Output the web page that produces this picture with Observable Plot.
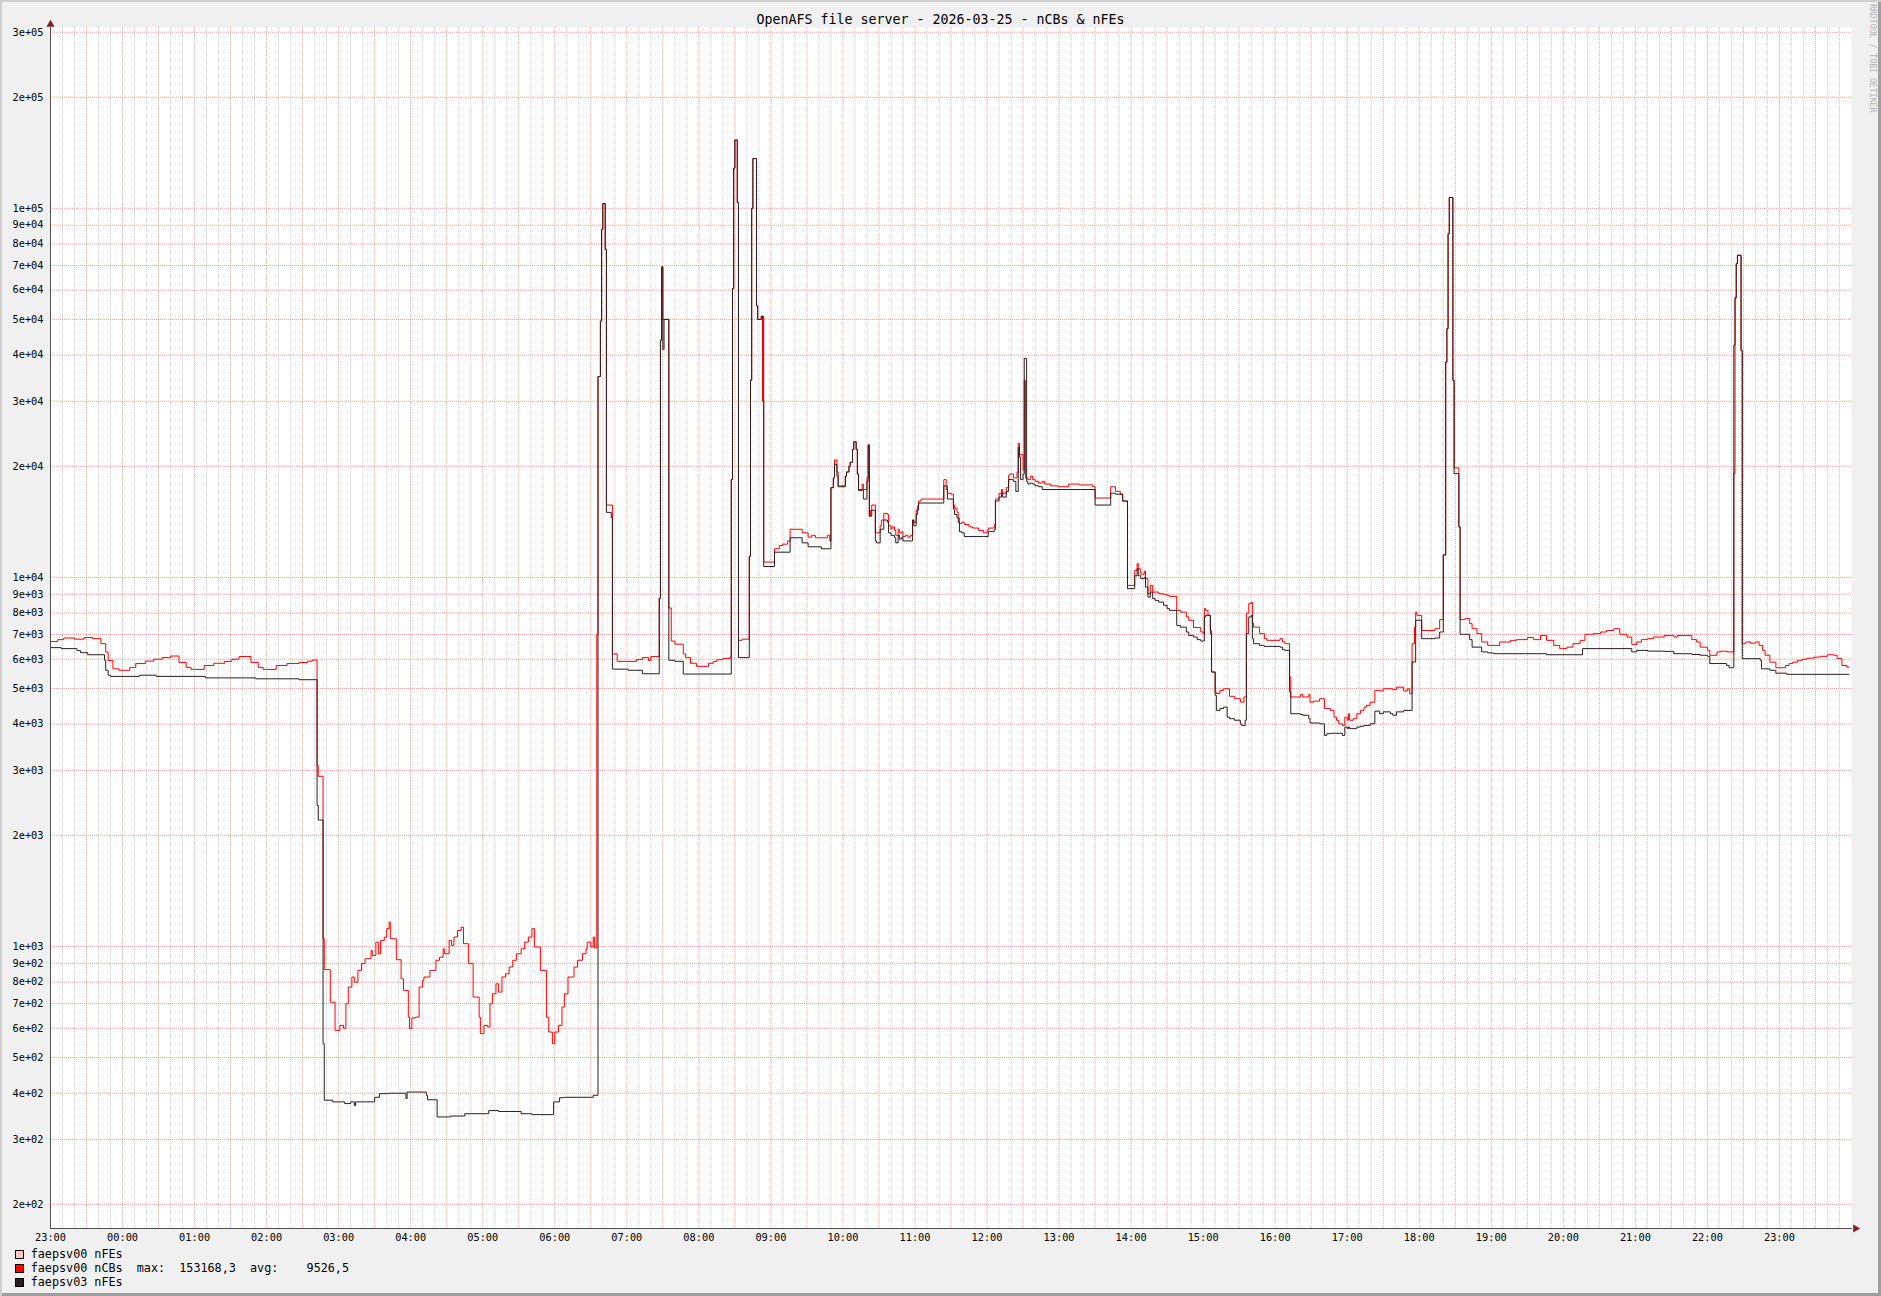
<!DOCTYPE html>
<html>
<head>
<meta charset="utf-8">
<script src="https://cdn.jsdelivr.net/npm/d3@7"></script>
<script src="https://cdn.jsdelivr.net/npm/@observablehq/plot@0.6"></script>
<style>
  html, body { margin: 0; padding: 0; background: #f0f0f0; }
  #chart { position: relative; width: 1881px; height: 1296px; background: #f0f0f0; overflow: hidden;
           font-family: "DejaVu Sans Mono", monospace; color: #000; }
  #shade { position: absolute; left: 0; top: 0; width: 1881px; height: 1296px; pointer-events: none;
           box-shadow: inset 2px 2px 0 #cfcfcf, inset -3px -3px 0 #9e9e9e; z-index: 5; }
  #title { position: absolute; left: 0; top: 12px; width: 1881px; text-align: center;
           font-size: 13.3px; line-height: 16px; white-space: pre; }
  #plot { position: absolute; left: 0; top: 0; }
  .lrow { position: absolute; left: 15px; height: 14px; line-height: 14px; display: flex; align-items: center;
          font-size: 11.76px; white-space: pre; }
  .sw { display: inline-block; width: 9px; height: 9px; box-sizing: border-box; border: 1px solid #000; margin-right: 6.7px; }
  #wm { position: absolute; left: 1867px; top: 4px; writing-mode: vertical-rl; font-size: 8.2px; line-height: 12px;
        color: #b4b4b4; white-space: pre; }
</style>
</head>
<body>
<div id="chart">
  <div id="title"></div>
  <div id="plot"></div>
  <div id="legend"></div>
  <div id="wm">RRDTOOL / TOBI OETIKER</div>
  <div id="shade"></div>
</div>
<script>
// ---------- DATA ----------
const chartTitle = "OpenAFS file server - 2026-03-25 - nCBs & nFEs";

const legendLabels = ["faepsv00 nFEs", "faepsv00 nCBs", "faepsv03 nFEs"];
const legendColors = ["#ffc8c8", "#ff0000", "#2b1d1d"];
const legendStats = ["", "  max:  153168,3  avg:    9526,5", ""];

// faepsv00 nCBs (red) : [time, value]
const nCBs00 = [
["23:00",6700],["23:06",6780],["23:11",6850],["23:20",6800],["23:28",6870],["23:35",6820],["23:42",6610],["23:46",6270],["23:48",5950],["23:52",5650],["23:57",5600],
["00:06",5700],["00:11",5840],["00:19",5930],["00:26",6000],["00:33",6060],["00:40",6120],["00:47",5880],["00:53",5700],["00:57",5630],
["01:08",5770],["01:16",5850],["01:25",5920],["01:31",6000],["01:37",6100],["01:47",5880],["01:53",5700],["01:57",5630],
["02:08",5770],["02:17",5840],["02:27",5880],["02:34",5930],["02:38",5970],["02:42",3090],["02:43",2890],["02:47",1050],["02:48",865],["02:53",706],["02:57",592],
["03:01",611],["03:04",600],["03:06",699],["03:08",776],["03:11",826],["03:13",800],["03:16",861],["03:19",898],["03:22",926],["03:27",975],["03:28",945],["03:31",1027],["03:33",955],["03:35",1038],["03:38",1060],["03:40",1117],["03:42",1164],["03:43",1049],["03:48",920],["03:52",817],["03:54",760],["03:58",643],["03:59",598],
["04:01",640],["04:04",643],["04:07",776],["04:10",809],["04:11",826],["04:16",861],["04:21",917],["04:24",935],["04:27",985],["04:28",955],["04:32",1038],["04:34",1006],["04:36",1060],["04:39",1105],["04:42",1128],["04:44",1017],["04:48",898],["04:52",729],["04:57",643],["04:58",580],
["05:01",611],["05:04",605],["05:06",699],["05:08",744],["05:11",792],["05:13",752],["05:16",826],["05:19",843],["05:22",879],["05:25",917],["05:28",955],["05:32",985],["05:35",1027],["05:38",1060],["05:41",1117],["05:43",996],["05:48",861],["05:53",643],["05:55",586],["05:58",545],
["06:00",586],["06:03",611],["06:06",685],["06:08",744],["06:11",826],["06:16",879],["06:19",917],["06:23",955],["06:26",985],["06:27",1027],["06:30",996],["06:32",1060],["06:33",990],
["06:35",7000],["06:36",35000],["06:38",49500],["06:39",87700],["06:40",103000],["06:42",77300],["06:43",15700],["06:48",6200],["06:52",5920],
["07:08",5990],["07:13",6060],["07:18",5950],["07:20",6100],["07:27",8770],["07:28",43900],["07:29",69400],["07:30",50000],["07:35",8260],["07:37",6720],["07:40",6590],["07:47",6200],["07:49",6060],["07:53",5850],["07:58",5740],
["08:08",5850],["08:12",5920],["08:15",5980],["08:20",6030],["08:26",6090],["08:27",18400],["08:28",60600],["08:29",128500],["08:30",153168],["08:32",103700],["08:33",6750],["08:36",6800],
["08:42",11400],["08:43",34200],["08:44",100000],["08:45",136400],["08:48",54400],["08:49",50000],["08:52",51000],["08:53",30000],["08:54",11000],
["09:03",11950],["09:07",12200],["09:10",12300],["09:14",12550],["09:16",13500],["09:26",13200],["09:31",12850],["09:34",13000],["09:37",12800],["09:47",13000],["09:49",12550],
["09:50",17500],["09:52",18600],["09:53",20800],["09:55",19300],["09:56",17700],
["10:02",18800],["10:03",19300],["10:05",20000],["10:06",20500],["10:08",22200],["10:09",23300],["10:11",22200],["10:12",19050],["10:13",17300],["10:16",17900],["10:17",17300],["10:20",18600],["10:21",22900],["10:22",14650],["10:23",15200],["10:24",15700],["10:27",13200],["10:31",13800],["10:32",14300],["10:34",14900],["10:37",14800],["10:38",13800],["10:40",13500],["10:41",13700],["10:43",13400],["10:44",13000],["10:46",13500],["10:47",13200],["10:49",13300],["10:50",12900],["10:52",13000],["10:54",12850],["10:56",13000],["10:58",14300],["10:59",14100],
["11:01",15200],["11:02",15600],["11:03",16100],["11:05",16300],["11:24",18400],["11:26",17700],["11:27",16900],["11:30",16800],["11:32",15700],["11:33",15400],["11:35",15000],["11:36",14500],["11:37",14000],["11:39",14100],["11:41",13900],["11:45",13700],["11:48",13600],["11:53",13400],["11:57",13200],
["12:00",13400],["12:01",13600],["12:06",13900],["12:07",16300],["12:10",16900],["12:12",17300],["12:13",16900],["12:16",17500],["12:18",18900],["12:19",19050],["12:22",18600],["12:25",19300],["12:26",23100],["12:27",21500],["12:30",19500],["12:31",34200],["12:32",18600],["12:34",18400],["12:36",18800],["12:38",18400],["12:40",18200],["12:43",18000],["12:46",18200],["12:48",17900],["12:53",17700],["12:59",17600],
["13:08",17900],["13:17",17800],["13:28",17600],["13:30",16400],["13:43",17600],["13:47",17100],["13:51",16800],["13:53",16100],["13:57",9510],
["14:03",10450],["14:05",10900],["14:06",10550],["14:08",10200],["14:11",10400],["14:12",9920],["14:14",9030],["14:16",9510],["14:18",9120],["14:23",9030],["14:27",8990],["14:30",8940],["14:32",8880],["14:38",8140],["14:41",8050],["14:46",7810],["14:48",7650],["14:52",7310],["14:58",7110],
["15:00",7040],["15:01",8230],["15:02",8140],["15:04",7890],["15:06",7180],["15:07",5540],["15:10",4890],["15:11",4840],["15:14",4940],["15:17",4990],["15:22",4760],["15:26",4690],["15:31",4590],["15:34",4740],["15:36",8000],["15:38",8490],["15:40",8570],["15:41",7520],["15:42",7330],["15:47",7040],["15:51",6820],["15:53",6750],
["16:04",6820],["16:06",6680],["16:08",6610],["16:12",5370],["16:13",4740],["16:21",4820],["16:23",4740],["16:28",4820],["16:29",4590],["16:32",4620],["16:37",4690],["16:41",4410],["16:46",4360],["16:49",4180],["16:51",4100],["16:53",4010],["16:56",3970],["16:58",4180],
["17:00",4100],["17:01",4270],["17:02",4100],["17:05",4140],["17:08",4270],["17:11",4360],["17:14",4450],["17:16",4500],["17:19",4590],["17:23",4940],["17:27",4920],["17:30",4990],["17:38",4960],["17:41",5040],["17:47",4920],["17:50",4990],["17:52",4840],["17:54",6610],["17:56",7330],["17:57",8050],["17:58",7890],
["18:02",7180],["18:13",7260],["18:17",7680],["18:20",11500],["18:22",38300],["18:23",47200],["18:24",85400],["18:25",107000],["18:28",34200],["18:29",19800],["18:33",13700],["18:34",7680],["18:38",7730],["18:42",7490],["18:44",7260],["18:48",7040],["18:52",6680],["18:57",6540],
["19:07",6680],["19:16",6750],["19:21",6780],["19:30",6870],["19:35",6780],["19:41",6960],["19:46",6750],["19:52",6540],["19:57",6410],
["20:03",6470],["20:08",6610],["20:14",6750],["20:18",7010],["20:25",7040],["20:31",7110],["20:36",7180],["20:42",7260],["20:47",7010],["20:53",6890],["20:57",6580],
["21:01",6680],["21:05",6780],["21:10",6820],["21:15",6890],["21:24",6960],["21:32",6890],["21:35",6960],["21:43",6960],["21:47",6780],["21:51",6680],["21:54",6470],
["22:00",6340],["22:02",6150],["22:08",6280],["22:11",6310],["22:16",6280],["22:22",19100],["22:23",57000],["22:24",70800],["22:25",74600],["22:28",41200],["22:29",6610],["22:32",6680],["22:36",6630],["22:40",6680],["22:43",6540],["22:46",6340],["22:48",6150],["22:52",5890],["22:57",5690],
["23:05",5770],["23:08",5840],["23:11",5890],["23:15",5960],["23:19",6000],["23:23",6040],["23:29",6080],["23:34",6110],["23:40",6170],["23:45",6150],["23:48",6020],["23:52",5770],["23:56",5710],["23:58",5710]
];

// faepsv03 nFEs (black) : [time, value]
const nFEs03 = [
["23:00",6450],["23:09",6410],["23:22",6330],["23:25",6250],["23:31",6170],["23:45",5960],["23:46",5600],["23:48",5430],["23:50",5390],
["00:14",5430],["00:28",5390],["01:09",5340],["01:51",5310],["02:27",5280],["02:42",2410],["02:43",2200],["02:47",545],["02:48",383],["02:55",379],
["03:05",375],["03:10",379],["03:13",370],["03:14",379],["03:30",390],["03:34",399],["03:41",400],["03:56",387],["03:57",403],
["04:11",403],["04:13",395],["04:14",384],["04:22",345],["04:33",347],["04:45",352],["05:05",359],["05:13",357],["05:32",352],["05:41",350],["05:59",379],
["06:04",389],["06:08",390],["06:32",395],["06:36",35000],["06:38",49500],["06:39",87700],["06:40",103000],["06:42",77300],["06:43",15000],["06:47",14500],["06:48",5640],
["07:01",5600],["07:13",5480],["07:27",8770],["07:28",43900],["07:29",69400],["07:30",41400],["07:31",50000],["07:35",5960],["07:40",5920],["07:47",5470],
["08:27",18400],["08:28",60600],["08:29",128500],["08:30",153000],["08:32",103700],["08:33",6060],["08:42",11400],["08:43",34200],["08:44",100000],["08:45",136400],["08:48",54400],["08:49",50000],["08:52",51000],["08:54",10700],
["09:03",11700],["09:16",12800],["09:26",12400],["09:31",12100],["09:42",11950],["09:50",17500],["09:52",18600],["09:53",20200],["09:55",18800],["09:56",17600],
["10:02",18800],["10:03",19300],["10:05",20000],["10:06",20500],["10:08",22200],["10:09",23300],["10:11",22200],["10:12",19050],["10:13",17200],["10:16",17300],["10:17",16300],["10:20",18200],["10:21",22800],["10:22",14650],["10:24",15200],["10:27",12550],["10:28",12400],["10:31",13500],["10:34",14300],["10:37",14100],["10:38",13200],["10:40",13000],["10:43",12800],["10:44",12400],["10:46",13000],["10:47",12700],["10:49",12850],["10:50",12550],["10:58",14300],["10:59",13800],
["11:01",14800],["11:02",15200],["11:03",15900],["11:24",17700],["11:26",17300],["11:27",16300],["11:32",15300],["11:33",14800],["11:35",14500],["11:36",14100],["11:37",13300],["11:39",13200],["11:41",12900],["11:57",12900],
["12:01",13300],["12:06",13500],["12:07",16100],["12:10",16500],["12:12",16900],["12:13",16500],["12:16",17100],["12:18",18400],["12:22",18200],["12:24",17100],["12:26",22500],["12:27",21200],["12:28",18400],["12:30",19050],["12:31",39200],["12:33",18200],["12:34",17900],["12:36",18000],["12:38",17900],["12:40",17700],["12:43",17600],["12:46",17300],
["13:30",15700],["13:43",16900],["13:47",16800],["13:53",16100],["13:57",9320],
["14:03",10100],["14:05",10550],["14:06",10100],["14:08",9920],["14:11",10000],["14:12",9410],["14:14",8840],["14:16",9120],["14:18",8760],["14:20",8660],["14:23",8570],["14:27",8400],["14:30",8230],["14:32",8140],["14:38",7410],["14:41",7330],["14:46",7110],["14:48",6960],["14:52",6890],["14:55",6780],["14:58",6720],
["15:01",7810],["15:02",7890],["15:06",7040],["15:07",5540],["15:10",4790],["15:11",4360],["15:14",4410],["15:17",4450],["15:20",4180],["15:22",4140],["15:26",4100],["15:31",4010],["15:32",3970],["15:35",4100],["15:36",7040],["15:38",7810],["15:40",7890],["15:41",6820],["15:42",6610],["15:47",6540],["15:51",6500],
["16:04",6470],["16:06",6370],["16:08",6340],["16:12",4890],["16:13",4270],["16:21",4250],["16:23",4230],["16:28",4140],["16:29",4030],["16:37",4010],["16:41",3730],["16:43",3770],["16:46",3780],["16:56",3730],["16:58",3930],
["17:00",3890],["17:01",3930],["17:02",3890],["17:08",3930],["17:11",3950],["17:14",3970],["17:19",4010],["17:23",4340],["17:27",4270],["17:30",4320],["17:36",4270],["17:38",4230],["17:41",4320],["17:47",4360],["17:54",5900],["17:57",7650],
["18:02",6820],["18:13",6850],["18:17",7110],["18:20",11500],["18:22",38300],["18:23",47200],["18:24",85400],["18:25",107000],["18:28",34200],["18:29",19100],["18:33",13700],["18:34",7010],["18:42",6780],["18:44",6470],["18:52",6280],["18:57",6240],
["19:02",6210],["19:46",6170],["20:16",6410],["20:57",6280],["21:01",6340],["21:10",6310],["21:24",6300],["21:32",6210],["21:47",6180],["21:54",6150],
["22:00",6110],["22:02",5840],["22:16",5770],["22:18",5690],["22:22",42600],["22:23",57400],["22:24",70800],["22:25",74600],["22:28",41200],["22:29",6020],["22:44",5960],["22:45",5650],["22:52",5600],["22:57",5500],
["23:06",5460],["23:58",5460]
];

const yTickValues = [200,300,400,500,600,700,800,900,1000,2000,3000,4000,5000,6000,7000,8000,9000,
                     10000,20000,30000,40000,50000,60000,70000,80000,90000,100000,200000,300000];
const yDomain = [172, 309000];

// ---------- BUILD ----------
const start = new Date(Date.UTC(2026, 2, 24, 23, 0));
const end = new Date(Date.UTC(2026, 2, 26, 0, 0));

function toRows(pairs) {
  let day = 24, prev = -1;
  return pairs.map(([t, v]) => {
    const [h, m] = t.split(":").map(Number);
    const mm = h * 60 + m;
    if (mm < prev) day++;
    prev = mm;
    return { date: new Date(Date.UTC(2026, 2, day, h, m)), value: v };
  });
}
const redRows = toRows(nCBs00);
const blackRows = toRows(nFEs03);

const hourTicks = d3.utcHour.range(start, end);
const majorX = d3.utcMinute.every(30).range(start, end);
const minorX = d3.utcMinute.every(10).range(start, end).filter(d => d.getUTCMinutes() % 30 !== 0);

const fmtY = v => {
  const e = Math.floor(Math.log10(v) + 1e-9);
  const m = Math.round(v / Math.pow(10, e));
  return `${m}e+${String(e).padStart(2, "0")}`;
};

const plot = Plot.plot({
  width: 1881,
  height: 1250,
  marginLeft: 50,
  marginRight: 30,
  marginTop: 27,
  marginBottom: 22,
  style: { background: "transparent", fontFamily: "DejaVu Sans Mono", fontSize: "10.3px", color: "#000", overflow: "visible" },
  x: { type: "utc", domain: [start, end], axis: null },
  y: { type: "log", domain: yDomain, axis: null },
  marks: [
    Plot.frame({ fill: "#ffffff", stroke: "none" }),
    Plot.ruleX(minorX, { stroke: "#8f8f8f", strokeOpacity: 0.45, strokeDasharray: "1,1" }),
    Plot.ruleX(majorX, { stroke: "#de5050", strokeOpacity: 0.5, strokeDasharray: "1,1" }),
    Plot.ruleY(yTickValues, { stroke: "#de5050", strokeOpacity: 0.5, strokeDasharray: "1,1" }),
    Plot.line(redRows, { x: "date", y: "value", curve: "step-after", stroke: legendColors[1], strokeWidth: 1 }),
    Plot.line(blackRows, { x: "date", y: "value", curve: "step-after", stroke: legendColors[2], strokeWidth: 1 }),
    Plot.text(hourTicks, { x: d => d, text: d3.utcFormat("%H:%M"), frameAnchor: "bottom", lineAnchor: "top", dy: 5, fill: "#000" }),
    Plot.text(yTickValues, { y: d => d, text: fmtY, frameAnchor: "left", textAnchor: "end", dx: -7, fill: "#000" }),
    Plot.frame({ anchor: "left", stroke: "#505050" }),
    Plot.frame({ anchor: "bottom", stroke: "#505050" }),
    Plot.dot([0], { frameAnchor: "top-left", symbol: "triangle", r: 3, fill: "#7f1f1f", stroke: "none", dy: -3 }),
    Plot.dot([0], { frameAnchor: "bottom-right", symbol: "triangle", r: 3, fill: "#7f1f1f", stroke: "none", dx: 4, rotate: 90 })
  ]
});
document.getElementById("plot").appendChild(plot);

document.getElementById("title").textContent = chartTitle;

const legend = document.getElementById("legend");
const rowCenters = [1254, 1268, 1282];
legendLabels.forEach((lab, i) => {
  const row = document.createElement("div");
  row.className = "lrow";
  row.style.top = (rowCenters[i] - 7) + "px";
  const sw = document.createElement("span");
  sw.className = "sw";
  sw.style.background = legendColors[i];
  row.appendChild(sw);
  row.appendChild(document.createTextNode(lab + legendStats[i]));
  legend.appendChild(row);
});
</script>
</body>
</html>
